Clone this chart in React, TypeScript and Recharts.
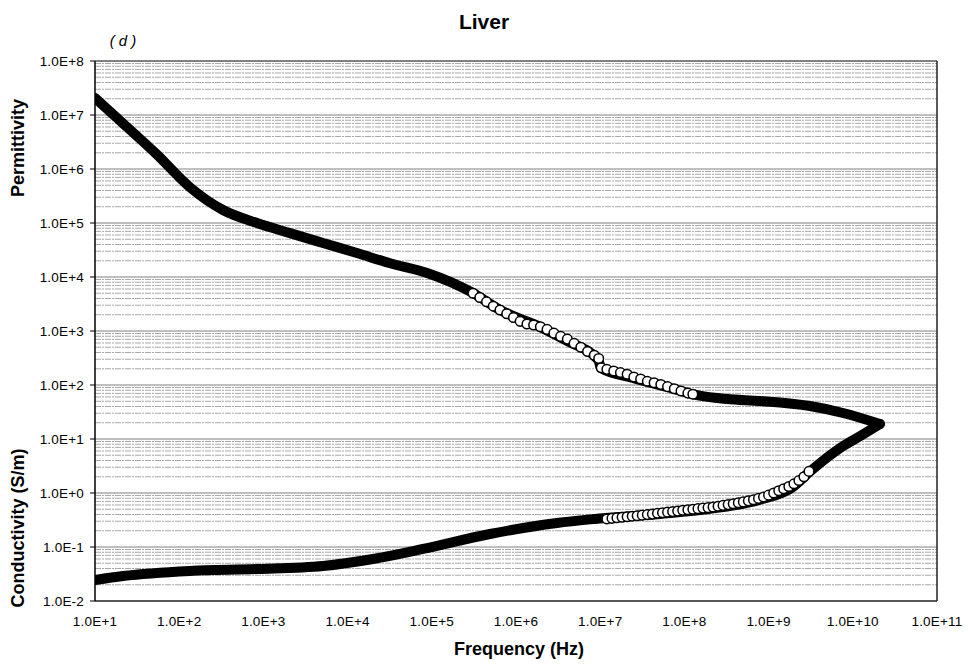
import React from 'react';
import { ComposedChart, Line, Scatter, XAxis, YAxis, ReferenceLine } from 'recharts';

// ---- axis ticks ----
const xTicks = [1e1, 1e2, 1e3, 1e4, 1e5, 1e6, 1e7, 1e8, 1e9, 1e10, 1e11];
const yTicks = [1e-2, 1e-1, 1e0, 1e1, 1e2, 1e3, 1e4, 1e5, 1e6, 1e7, 1e8];
const minorSteps = [2, 3, 4, 5, 6, 7, 8, 9];

// ---- model curves (thick black) ----
const permittivityModel = [
  { f: 10, v: 2.07e7 },
  { f: 21.5, v: 7.0e6 },
  { f: 54.5, v: 1.85e6 },
  { f: 134, v: 4.6e5 },
  { f: 331, v: 1.74e5 },
  { f: 840, v: 1.0e5 },
  { f: 2070, v: 6.5e4 },
  { f: 5100, v: 4.27e4 },
  { f: 1.29e4, v: 2.78e4 },
  { f: 3.19e4, v: 1.8e4 },
  { f: 8.8e4, v: 1.19e4 },
  { f: 3.08e5, v: 5060 },
  { f: 6.46e5, v: 2450 },
  { f: 1.93e6, v: 1190 },
  { f: 4.04e6, v: 653 },
  { f: 9.5e6, v: 290 },
  { f: 1.02e7, v: 206 },
  { f: 2.45e7, v: 135 },
  { f: 6.2e7, v: 92 },
  { f: 1.41e8, v: 65 },
  { f: 3.2e8, v: 55 },
  { f: 7.9e8, v: 50.6 },
  { f: 3.1e9, v: 40.8 },
  { f: 7.65e9, v: 30.3 },
  { f: 2.1e10, v: 19 },
];

const conductivityModel = [
  { f: 10, v: 0.0245 },
  { f: 21.5, v: 0.029 },
  { f: 134, v: 0.036 },
  { f: 840, v: 0.039 },
  { f: 5100, v: 0.0445 },
  { f: 2.0e4, v: 0.06 },
  { f: 7.85e4, v: 0.092 },
  { f: 4.9e5, v: 0.174 },
  { f: 3.07e6, v: 0.278 },
  { f: 7.6e6, v: 0.325 },
  { f: 5.1e7, v: 0.41 },
  { f: 2.0e8, v: 0.51 },
  { f: 7.9e8, v: 0.75 },
  { f: 1.95e9, v: 1.3 },
  { f: 3.1e9, v: 2.5 },
  { f: 7.05e9, v: 6.8 },
  { f: 1.3e10, v: 12 },
  { f: 2.1e10, v: 19 },
];

// ---- measured data (open circles) ----
const permittivityMeasured = [
  { f: 3.09e5, v: 5010 }, { f: 3.72e5, v: 4170 }, { f: 4.47e5, v: 3470 },
  { f: 5.37e5, v: 2880 }, { f: 6.46e5, v: 2450 }, { f: 7.76e5, v: 2090 },
  { f: 9.33e5, v: 1780 }, { f: 1.12e6, v: 1510 }, { f: 1.35e6, v: 1350 },
  { f: 1.62e6, v: 1290 }, { f: 1.95e6, v: 1200 }, { f: 2.34e6, v: 1070 },
  { f: 2.82e6, v: 912 }, { f: 3.39e6, v: 794 }, { f: 4.07e6, v: 708 },
  { f: 4.9e6, v: 589 }, { f: 5.89e6, v: 501 }, { f: 7.08e6, v: 417 },
  { f: 8.51e6, v: 355 }, { f: 9.6e6, v: 309 },
  { f: 1.03e7, v: 209 }, { f: 1.2e7, v: 195 }, { f: 1.45e7, v: 182 },
  { f: 1.74e7, v: 170 }, { f: 2.09e7, v: 158 }, { f: 2.51e7, v: 141 },
  { f: 3.02e7, v: 129 }, { f: 3.63e7, v: 117 }, { f: 4.37e7, v: 110 },
  { f: 5.25e7, v: 102 }, { f: 6.31e7, v: 93.3 }, { f: 7.59e7, v: 85.1 },
  { f: 9.12e7, v: 77.6 }, { f: 1.1e8, v: 70.8 }, { f: 1.26e8, v: 67.6 },
];

const conductivityMeasured = [
  { f: 1.2e7, v: 0.331 }, { f: 1.38e7, v: 0.339 }, { f: 1.58e7, v: 0.347 },
  { f: 1.82e7, v: 0.355 }, { f: 2.09e7, v: 0.363 }, { f: 2.4e7, v: 0.372 },
  { f: 2.75e7, v: 0.38 }, { f: 3.16e7, v: 0.389 }, { f: 3.63e7, v: 0.398 },
  { f: 4.17e7, v: 0.407 }, { f: 4.79e7, v: 0.422 }, { f: 5.5e7, v: 0.432 },
  { f: 6.31e7, v: 0.442 }, { f: 7.24e7, v: 0.452 }, { f: 8.32e7, v: 0.462 },
  { f: 9.55e7, v: 0.479 }, { f: 1.1e8, v: 0.49 }, { f: 1.26e8, v: 0.501 },
  { f: 1.45e8, v: 0.513 }, { f: 1.66e8, v: 0.525 }, { f: 1.91e8, v: 0.537 },
  { f: 2.19e8, v: 0.55 }, { f: 2.51e8, v: 0.569 }, { f: 2.88e8, v: 0.589 },
  { f: 3.31e8, v: 0.61 }, { f: 3.8e8, v: 0.631 }, { f: 4.37e8, v: 0.661 },
  { f: 5.01e8, v: 0.684 }, { f: 5.75e8, v: 0.716 }, { f: 6.61e8, v: 0.75 },
  { f: 7.59e8, v: 0.794 }, { f: 8.71e8, v: 0.841 }, { f: 1.0e9, v: 0.912 },
  { f: 1.15e9, v: 1.0 }, { f: 1.32e9, v: 1.1 }, { f: 1.51e9, v: 1.2 },
  { f: 1.74e9, v: 1.32 }, { f: 2.0e9, v: 1.48 }, { f: 2.29e9, v: 1.7 },
  { f: 2.63e9, v: 2.0 }, { f: 3.02e9, v: 2.51 },
];

const minorGrid: number[] = [];
yTicks.slice(0, -1).forEach((d) => minorSteps.forEach((s) => minorGrid.push(d * s)));

const fmt = (v: number) => {
  const e = Math.round(Math.log10(v));
  return `1.0E${e >= 0 ? '+' : '-'}${Math.abs(e)}`;
};

const FONT = 'Arial, "Liberation Sans", Helvetica, sans-serif';

const OpenCircle = (props: any) => {
  const { cx, cy } = props;
  if (cx == null || cy == null) return null;
  return <circle cx={cx} cy={cy} r={4.8} fill="#fff" stroke="#000" strokeWidth={1.5} />;
};

export default function App() {
  return (
    <div style={{ position: 'absolute', left: 0, top: 0, width: 968, height: 664, background: '#fff' }}>
      <ComposedChart
        width={968}
        height={664}
        margin={{ top: 61, right: 31, bottom: 33, left: 35 }}
      >
        <XAxis
          dataKey="f"
          type="number"
          scale="log"
          domain={[10, 1e11]}
          allowDataOverflow
          ticks={xTicks}
          tickFormatter={fmt}
          height={30}
          tickLine={false}
          tickSize={4}
          tickMargin={11}
          axisLine={{ stroke: '#333', strokeWidth: 1.5 }}
          tick={{ fill: '#000', fontSize: 13.5, fontFamily: FONT, letterSpacing: 0.2 }}
        />
        <YAxis
          dataKey="v"
          type="number"
          scale="log"
          domain={[0.01, 1e8]}
          allowDataOverflow
          ticks={yTicks}
          tickFormatter={fmt}
          width={60}
          tickSize={5}
          tickMargin={6}
          tickLine={{ stroke: '#000' }}
          axisLine={{ stroke: '#000', strokeWidth: 1.5 }}
          tick={{ fill: '#000', fontSize: 13.5, fontFamily: FONT, letterSpacing: 0.2 }}
        />
        {minorGrid.map((g) => (
          <ReferenceLine key={`m${g}`} y={g} stroke="#a8a8a8" strokeDasharray="6 1 2 1" strokeWidth={1} />
        ))}
        {yTicks.map((g) => (
          <ReferenceLine key={`M${g}`} y={g} stroke="#808080" strokeWidth={1} />
        ))}
        <ReferenceLine y={1e8} stroke="#444" strokeWidth={1.2} />
        <ReferenceLine x={1e11} stroke="#222" strokeWidth={1.5} />
        <Line
          data={permittivityModel}
          dataKey="v"
          type="monotoneX"
          stroke="#000"
          strokeWidth={10}
          strokeLinecap="round"
          strokeLinejoin="round"
          dot={false}
          activeDot={false}
          isAnimationActive={false}
        />
        <Line
          data={conductivityModel}
          dataKey="v"
          type="monotoneX"
          stroke="#000"
          strokeWidth={10}
          strokeLinecap="round"
          strokeLinejoin="round"
          dot={false}
          activeDot={false}
          isAnimationActive={false}
        />
        <Scatter data={permittivityMeasured} dataKey="v" shape={OpenCircle} isAnimationActive={false} />
        <Scatter data={conductivityMeasured} dataKey="v" shape={OpenCircle} isAnimationActive={false} />
      </ComposedChart>
      <svg
        width={968}
        height={664}
        style={{ position: 'absolute', left: 0, top: 0, pointerEvents: 'none' }}
      >
        <text x={484} y={29} textAnchor="middle" fontFamily={FONT} fontWeight="bold" fontSize={21} fill="#000">
          Liver
        </text>
        <text x={123} y={46} textAnchor="middle" fontFamily={FONT} fontStyle="italic" fontSize={15} fill="#000">
          ( d )
        </text>
        <text x={519} y={655} textAnchor="middle" fontFamily={FONT} fontWeight="bold" fontSize={18} fill="#000">
          Frequency (Hz)
        </text>
        <text
          transform="translate(24,148) rotate(-90)"
          textAnchor="middle"
          fontFamily={FONT}
          fontWeight="bold"
          fontSize={18}
          fill="#000"
        >
          Permittivity
        </text>
        <text
          transform="translate(24,528) rotate(-90)"
          textAnchor="middle"
          fontFamily={FONT}
          fontWeight="bold"
          fontSize={18}
          fill="#000"
        >
          Conductivity (S/m)
        </text>
      </svg>
    </div>
  );
}
